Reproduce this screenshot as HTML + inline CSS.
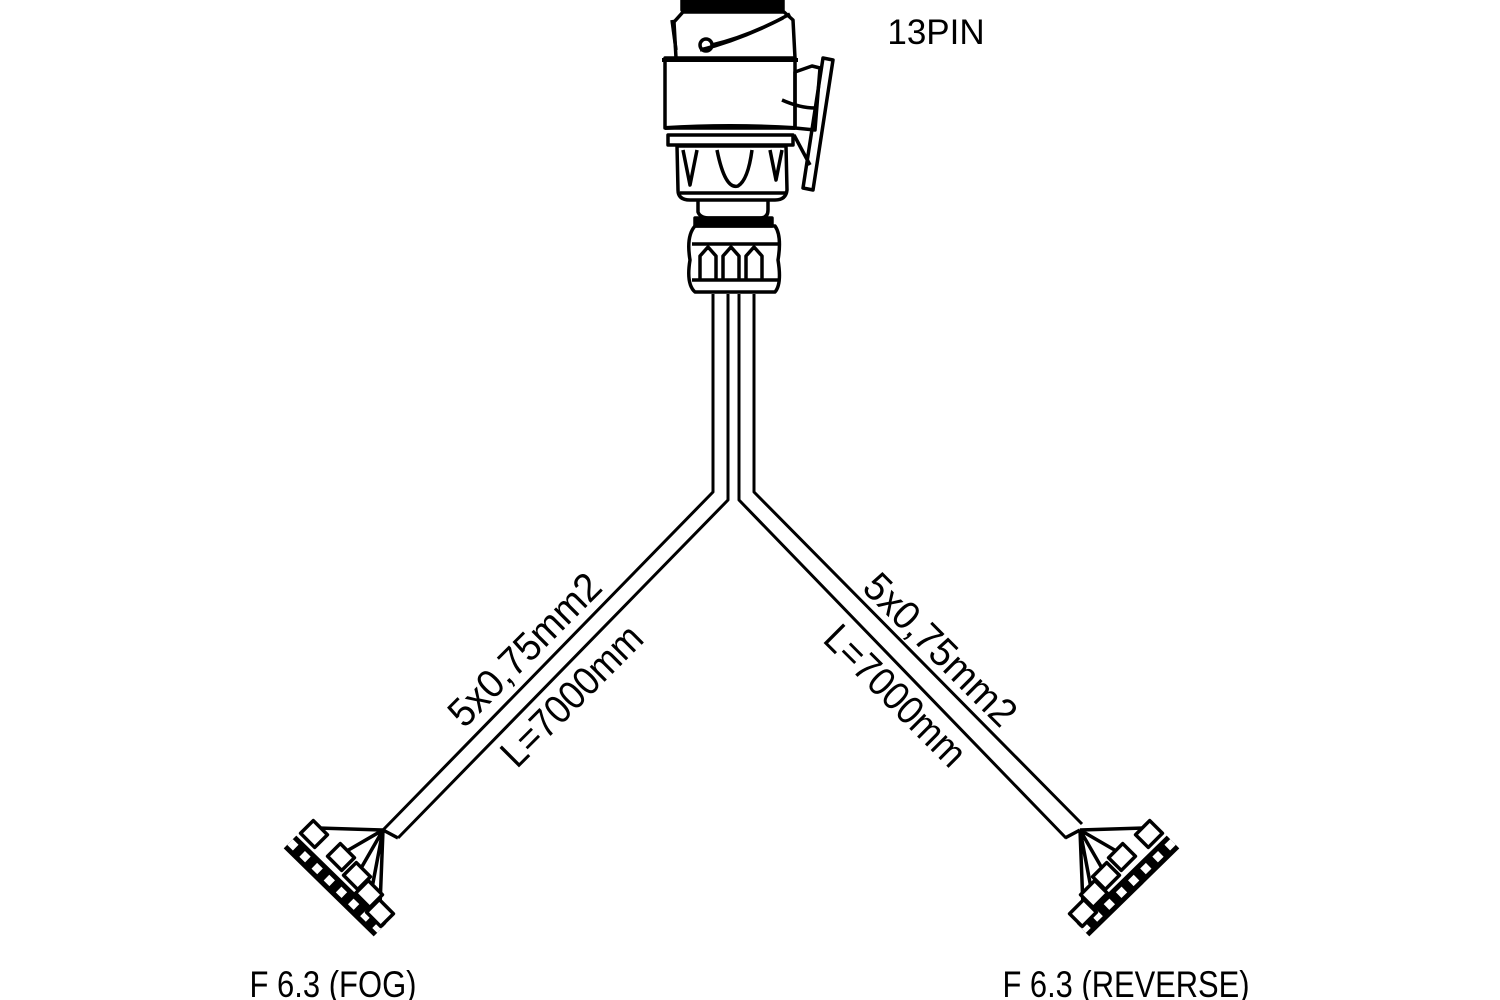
<!DOCTYPE html>
<html><head><meta charset="utf-8"><style>
html,body{margin:0;padding:0;background:#fff;}
svg{display:block}
text{font-family:"Liberation Sans Narrow","Liberation Sans",sans-serif;fill:#000}
</style></head><body>
<svg width="1500" height="1000" viewBox="0 0 1500 1000" xmlns="http://www.w3.org/2000/svg">
<g fill="none" stroke="#000" stroke-width="3.5" stroke-linejoin="round">
<!-- connector top cap -->
<rect x="682" y="0" width="101" height="10" fill="#000"/>
<path d="M676 58 L674 22 L683 12 L784 12 L793 20 L795 58"/>
<path d="M672 20 L676 50"/>
<path d="M700 50 Q740 40 783 18" />
<path d="M712 45 Q750 36 790 14" />
<circle cx="706" cy="45" r="6"/>
<!-- main band -->
<path d="M665 58 L795 58 L795 128 L665 128 Z"/>
<line x1="662" y1="60" x2="798" y2="60" stroke-width="4"/>
<path d="M665 128 Q730 124 795 128" stroke-width="4"/>
<rect x="668" y="135" width="125" height="10"/>
<!-- side lever -->
<path d="M795 72 L812 66 L820 68 L815 130 L795 128 Z"/>
<path d="M782 100 Q800 108 815 108"/>
<path d="M823 58 L833 60 L813 190 L803 188 Z"/>
<path d="M794 135 L810 165"/>
<!-- lower cone -->
<path d="M677 146 L786 146 L787 190 Q786 200 775 200 L690 200 Q678 200 678 190 Z"/>
<line x1="680" y1="193" x2="785" y2="193"/>
<path d="M683 150 L690 185 L697 150"/>
<path d="M717 150 Q725 190 738 186 Q748 180 752 150"/>
<path d="M770 150 L776 180 L782 150"/>
<!-- neck -->
<path d="M698 200 L698 212 Q700 218 710 218 L760 218 Q768 218 768 210 L768 200"/>
<rect x="695" y="218" width="77" height="8" fill="#000"/>
<!-- nut -->
<path d="M695 226 L775 226 Q782 236 778 260 Q782 284 775 292 L695 292 Q686 284 690 260 Q686 236 695 226 Z"/>
<line x1="692" y1="244" x2="778" y2="244"/>
<line x1="692" y1="280" x2="778" y2="280"/>
<path d="M700 280 L700 256 L708 247 L716 256 L716 280 M723 280 L723 256 L731 247 L739 256 L739 280 M746 280 L746 256 L754 247 L762 256 L762 280"/>
</g>
<g fill="none" stroke="#000" stroke-width="3" stroke-linejoin="round">
<!-- cables -->
<path d="M713 294 L713 492 L383 830"/>
<path d="M728 294 L728 500 L398 838"/>
<path d="M739 294 L739 500 L1066 838"/>
<path d="M754 294 L754 492 L1082 824"/>
<!-- left fan -->
<g id="fan">
<path d="M383 830 L318 828 M383 830 L345 852 M383 830 L360 870 M383 830 L372 888 M383 830 L380 906 M383 830 L398 838" stroke-width="3.5"/>
<path d="M290 842 L380 930" stroke-width="18" stroke="#000"/>
<path d="M290 842 L380 930" stroke-width="8" stroke="#fff" stroke-dasharray="8 9"/>
<g stroke-width="3.5" fill="#fff">
<rect x="-10" y="-9" width="20" height="18" transform="translate(314,834) rotate(45)"/>
<rect x="-10" y="-9" width="20" height="18" transform="translate(341,857) rotate(45)"/>
<rect x="-10" y="-9" width="20" height="18" transform="translate(357,876) rotate(45)"/>
<rect x="-10" y="-9" width="20" height="18" transform="translate(369,894) rotate(45)"/>
<rect x="-10" y="-9" width="20" height="18" transform="translate(380,913) rotate(45)"/>
</g>
</g>
<use href="#fan" transform="translate(1463,0) scale(-1,1)"/>
</g>
<text x="936" y="44" font-size="35" text-anchor="middle">13PIN</text>
<text x="333" y="997" font-size="37" text-anchor="middle" textLength="167" lengthAdjust="spacingAndGlyphs">F 6.3 (FOG)</text>
<text x="1126" y="997" font-size="37" text-anchor="middle" textLength="247" lengthAdjust="spacingAndGlyphs">F 6.3 (REVERSE)</text>
<text font-size="40" text-anchor="middle" textLength="198" lengthAdjust="spacingAndGlyphs" transform="translate(525,650) rotate(-45)" y="13">5x0,75mm2</text>
<text font-size="40" text-anchor="middle" textLength="182" lengthAdjust="spacingAndGlyphs" transform="translate(572,696) rotate(-45)" y="13">L=7000mm</text>
<text font-size="40" text-anchor="middle" textLength="198" lengthAdjust="spacingAndGlyphs" transform="translate(940,650) rotate(45)" y="13">5x0,75mm2</text>
<text font-size="40" text-anchor="middle" textLength="182" lengthAdjust="spacingAndGlyphs" transform="translate(895,696) rotate(45)" y="13">L=7000mm</text>
</svg>
</body></html>
